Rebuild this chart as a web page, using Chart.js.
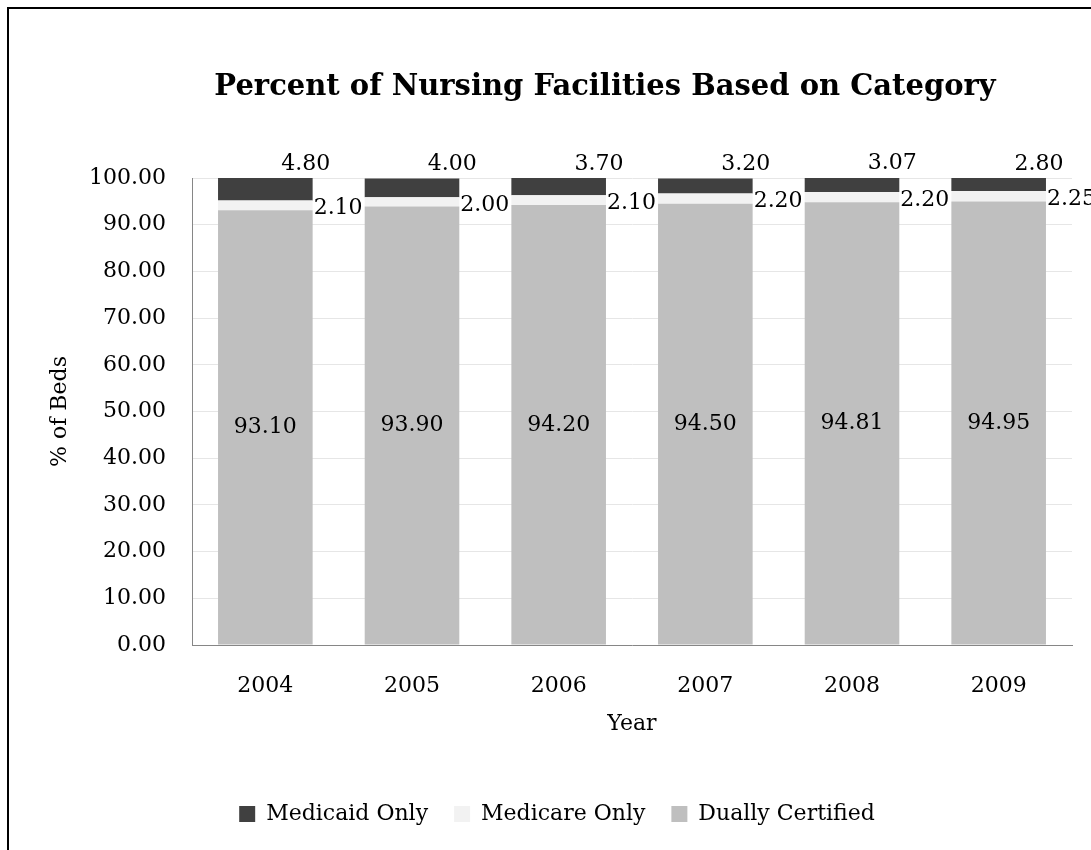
<!DOCTYPE html>
<html>
<head>
<meta charset="utf-8">
<script src="https://cdn.jsdelivr.net/npm/chart.js@4"></script>
<style>
  html, body { margin: 0; padding: 0; background: #fff; }
  #wrap { position: relative; width: 1091px; height: 850px; overflow: hidden; }
  #frame { position: absolute; left: 7px; top: 7px; width: 1200px; height: 1000px;
           border-left: 2px solid #000; border-top: 2px solid #000; }
  canvas { position: absolute; left: 0; top: 0; }
</style>
</head>
<body>
<div id="wrap">
  <div id="frame"></div>
  <canvas id="c" width="1091" height="850"></canvas>
</div>
<script>
const chartTitle = 'Percent of Nursing Facilities Based on Category';
const categories = ['2004', '2005', '2006', '2007', '2008', '2009'];
const medicaidOnly = [4.80, 4.00, 3.70, 3.20, 3.07, 2.80];
const medicareOnly = [2.10, 2.00, 2.10, 2.20, 2.20, 2.25];
const duallyCertified = [93.10, 93.90, 94.20, 94.50, 94.81, 94.95];

const FONT = "'DejaVu Serif', serif";

const titlePlugin = {
  id: 'customTitle',
  afterDraw(chart) {
    const ctx = chart.ctx;
    ctx.save();
    ctx.font = 'bold 29px ' + FONT;
    ctx.fillStyle = '#000';
    ctx.textAlign = 'center';
    ctx.textBaseline = 'middle';
    ctx.fillText(chartTitle, 605, 87);
    ctx.restore();
  }
};

const labelPlugin = {
  id: 'labels',
  afterDatasetsDraw(chart) {
    const ctx = chart.ctx;
    ctx.save();
    ctx.font = '22px ' + FONT;
    ctx.fillStyle = '#000';
    const dMeta = chart.getDatasetMeta(0);
    const mMeta = chart.getDatasetMeta(1);
    const aMeta = chart.getDatasetMeta(2);
    categories.forEach((c, i) => {
      const d = dMeta.data[i], m = mMeta.data[i], a = aMeta.data[i];
      ctx.textAlign = 'center'; ctx.textBaseline = 'middle';
      ctx.fillText(duallyCertified[i].toFixed(2), d.x, (d.y + d.base) / 2);
      ctx.textAlign = 'left';
      ctx.fillText(medicareOnly[i].toFixed(2), m.x + m.width / 2 + 1, (m.y + m.base) / 2 + 3);
      ctx.textAlign = 'center';
      ctx.fillText(medicaidOnly[i].toFixed(2), a.x + a.width / 2 - 7, a.y - 14);
    });
    ctx.restore();
  }
};

new Chart(document.getElementById('c'), {
  type: 'bar',
  data: {
    labels: categories,
    datasets: [
      { label: 'Dually Certified', data: duallyCertified, backgroundColor: '#bfbfbf' },
      { label: 'Medicare Only', data: medicareOnly, backgroundColor: '#f2f2f2' },
      { label: 'Medicaid Only', data: medicaidOnly, backgroundColor: '#404040' }
    ]
  },
  options: {
    responsive: false,
    animation: false,
    devicePixelRatio: 1,
    datasets: { bar: { categoryPercentage: 1, barPercentage: 0.645 } },
    layout: { padding: { top: 178, left: 42, right: 19, bottom: 15 } },
    plugins: {
      title: { display: false },
      legend: {
        position: 'bottom',
        reverse: true,
        labels: {
          color: '#000',
          font: { family: FONT, size: 22 },
          boxWidth: 16, boxHeight: 16,
          padding: 26
        }
      },
      tooltip: { enabled: false }
    },
    scales: {
      x: {
        stacked: true,
        afterFit(s) { s.height = 132; },
        grid: { display: false, drawTicks: false },
        border: { display: true, color: '#868686', width: 1 },
        ticks: { color: '#000', font: { family: FONT, size: 22 }, padding: 28 },
        title: { display: true, text: 'Year', color: '#000',
                 font: { family: FONT, size: 22 }, padding: { top: 11, bottom: 40 } }
      },
      y: {
        stacked: true,
        min: 0, max: 100,
        afterFit(s) { s.width = 150; },
        grid: { color: '#e6e6e6', drawTicks: false },
        border: { display: true, color: '#868686', width: 1 },
        ticks: { stepSize: 10, color: '#000', font: { family: FONT, size: 22 }, padding: 26,
                 callback: v => Number(v).toFixed(2) },
        title: { display: true, text: '% of Beds', color: '#000',
                 font: { family: FONT, size: 22 }, padding: { top: 5, bottom: 0 } }
      }
    }
  },
  plugins: [labelPlugin, titlePlugin]
});
</script>
</body>
</html>
